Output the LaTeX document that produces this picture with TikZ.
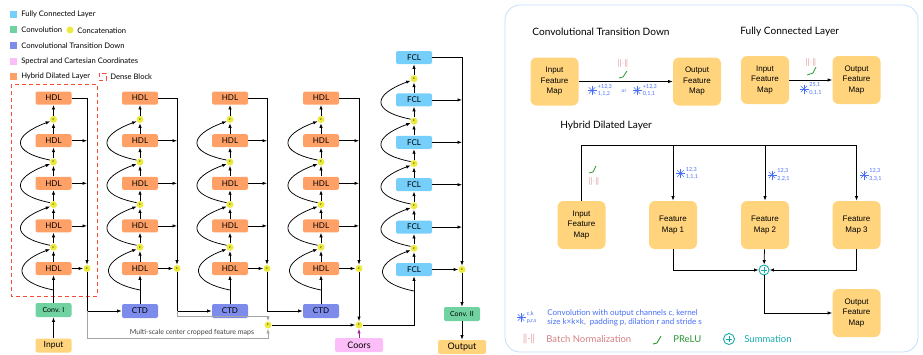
\documentclass[tikz,border=0pt]{standalone}
\usepackage{fontspec}
\setmainfont{Lato}
\newfontfamily\fmfont{Liberation Sans}
\usepackage{tikz}
\usetikzlibrary{arrows.meta,positioning,calc}

\definecolor{hdlcol}{RGB}{255,160,102}
\definecolor{fclcol}{RGB}{118,207,250}
\definecolor{convcol}{RGB}{112,210,160}
\definecolor{ctdcol}{RGB}{125,140,235}
\definecolor{coorcol}{RGB}{252,190,248}
\definecolor{catcol}{RGB}{236,234,60}
\definecolor{iocol}{RGB}{255,212,125}
\definecolor{densecol}{RGB}{245,75,55}
\definecolor{panelcol}{RGB}{195,222,250}
\definecolor{starcol}{RGB}{70,110,245}
\definecolor{bncol}{RGB}{205,95,100}
\definecolor{relucol}{RGB}{40,150,50}
\definecolor{sumcol}{RGB}{20,170,170}
\definecolor{skipcol}{RGB}{165,165,165}
\definecolor{coorarrow}{RGB}{150,40,150}

\tikzset{
  blk/.style={rounded corners=2pt, minimum width=36pt, minimum height=13pt, inner sep=0pt, font=\fontsize{8}{8}\selectfont},
  hdl/.style={blk, fill=hdlcol},
  fcl/.style={blk, fill=fclcol},
  ctd/.style={blk, fill=ctdcol, minimum height=14pt},
  cnv/.style={blk, fill=convcol, minimum height=14pt, font=\fontsize{7}{7}\selectfont},
  io/.style={blk, fill=iocol, minimum height=14pt, font=\fontsize{8.5}{8.5}\selectfont},
  cat/.style={circle, fill=catcol, minimum size=7pt, inner sep=0pt, font=\fontsize{3.5}{3.5}\selectfont},
  fmap/.style={rounded corners=6pt, fill=iocol, minimum width=48pt, minimum height=48pt, inner sep=1pt, align=center, font=\fmfont\fontsize{8}{10.5}\selectfont},
  sumnode/.style={circle, draw=sumcol, line width=0.9pt, minimum size=10pt, inner sep=0pt,
    path picture={\draw[sumcol, line width=0.8pt] ($(path picture bounding box.center)+(-2.6pt,0pt)$) -- ++(5.2pt,0pt)
      ($(path picture bounding box.center)+(0pt,-2.6pt)$) -- ++(0pt,5.2pt);}},
  swatch/.style={minimum size=7pt, inner sep=0pt},
  legtext/.style={anchor=west, inner sep=0pt, font=\fontsize{7.6}{7.6}\selectfont},
  ttl/.style={anchor=west, inner sep=0pt, font=\fontsize{10.1}{10.1}\selectfont},
  cvlab/.style={anchor=west, inner sep=0pt, align=left, text=starcol, font=\fontsize{5.5}{7.5}\selectfont},
  bnsym/.style={inner sep=0pt, text=bncol, font=\fontsize{8}{8}\selectfont},
  convstar/.pic={\foreach \a in {0,45,90,135} \draw[starcol, line width=0.55pt] (\a:4.5pt) -- (\a+180:4.5pt);},
}

\begin{document}
\begin{tikzpicture}[x=1pt, y=-1pt, line width=0.75pt, >={Latex[length=4.5pt,width=3.4pt]}]
  \useasboundingbox (0,0) rectangle (923,354);

  % legend of the network
  \node[swatch, fill=fclcol] (L1) at (13,14.5) {};
  \node[legtext, right=4pt of L1] (LT1) {Fully Connected Layer};
  \node[swatch, fill=convcol] (L2) at (13,29.7) {};
  \node[legtext, right=4pt of L2] (LT2) {Convolution};
  \node[cat] (L3) at (70,30) {};
  \node[legtext] (LT3) at (77,30.5) {Concatenation};
  \node[swatch, fill=ctdcol] (L4) at (13,45.3) {};
  \node[legtext, right=4pt of L4] (LT4) {Convolutional Transition Down};
  \node[swatch, fill=coorcol] (L5) at (13,61) {};
  \node[legtext, right=4pt of L5] (LT5) {Spectral and Cartesian Coordinates};
  \node[swatch, fill=hdlcol] (L6) at (13,76.3) {};
  \node[legtext, right=4pt of L6] (LT6) {Hybrid Dilated Layer};
  \draw[densecol, line width=0.9pt, dash pattern=on 4pt off 3pt] (99,73) rectangle (106,80);
  \node[legtext] (LT7) at (110,76.5) {Dense Block};

  % dense block frame
  \draw[densecol, line width=1pt, dash pattern=on 4pt off 3pt] (11,84) rectangle (97,296);

  % four dense blocks of HDL
  \foreach \col/\cx/\rx in {1/53.5/87,2/140/177,3/230/267,4/321/359} {
    \foreach \i in {1,...,5}
      \node[hdl] (H\col\i) at (\cx,{268.5-(\i-1)*42.6}) {HDL};
    \foreach \i in {1,...,4}
      \node[cat] (C\col\i) at (\cx,{268.5-(\i-0.5)*42.6}) {c};
    \node[cat] (K\col) at (\rx,268.5) {c};
    \foreach \i [count=\j from 2] in {1,...,4} {
      \draw[->] (H\col\i) -- (C\col\i);
      \draw[->] (C\col\i) -- (H\col\j);
    }
    \draw[->] (\cx,290) .. controls +(-40,-8) and +(-38,14) .. (C\col1.210);
    \foreach \i [count=\j from 2] in {1,2,3}
      \draw[->] (C\col\i.150) .. controls +(-40,-8) and +(-38,14) .. (C\col\j.210);
    \draw[->] (H\col5.east) -| (K\col);
    \foreach \i in {2,3,4}
      \draw[->] (H\col\i.east) -- (H\col\i.east -| K\col);
    \draw[->] (H\col1) -- (K\col);
  }

  \node[cnv] (V1) at (53.5,310) {Conv. I};
  \node[io] (I) at (53.5,345.5) {Input};
  \draw[->] (I) -- (V1);
  \draw[->] (V1) -- (H11);

  \node[ctd] (T1) at (140,311) {CTD};
  \node[ctd] (T2) at (230,311) {CTD};
  \node[ctd] (T3) at (321,311) {CTD};
  \draw[->] (T1) -- (H21);
  \draw[->] (T2) -- (H31);
  \draw[->] (T3) -- (H41);
  \draw[->] (K1) |- (T1);
  \draw[->] (K2) |- (T2);
  \draw[->] (K3) |- (T3);

  % multi-scale skips
  \node[cat] (M) at (268,325) {c};
  \draw[skipcol, ->] (K1 |- T1) -- (87,338) -| (M);
  \draw[skipcol, ->] (K2 |- T2) -- (177,316) -| (M);
  \node[inner sep=0pt, text=black!75, font=\fontsize{7}{7}\selectfont] (MS) at (192,332.5) {Multi-scale center cropped feature maps};

  % fully connected block
  \foreach \i in {1,...,6}
    \node[fcl] (F\i) at (414,{269.5-(\i-1)*42.4}) {FCL};
  \foreach \i in {1,...,5}
    \node[cat] (D\i) at (414,{269.5-(\i-0.5)*42.4}) {c};
  \node[cat] (K5) at (462,269.5) {c};
  \foreach \i [count=\j from 2] in {1,...,5} {
    \draw[->] (F\i) -- (D\i);
    \draw[->] (D\i) -- (F\j);
  }
  \draw[->] (414,291) .. controls +(-40,-8) and +(-38,14) .. (D1.210);
  \foreach \i [count=\j from 2] in {1,...,4}
    \draw[->] (D\i.150) .. controls +(-40,-8) and +(-38,14) .. (D\j.210);
  \draw[->] (F6.east) -| (K5);
  \foreach \i in {2,...,5}
    \draw[->] (F\i.east) -- (F\i.east -| K5);
  \draw[->] (F1) -- (K5);

  \node[cat] (N) at (359,325) {c};
  \node[blk, fill=coorcol, minimum width=48pt, minimum height=14pt, font=\fontsize{9}{9}\selectfont] (P) at (359,345) {Coors};
  \draw[->] (M) -- (N);
  \draw[->] (K4) -- (N);
  \draw[->, coorarrow] (P) -- (N);
  \draw[->] (N) -| (F1);

  \node[cnv] (V2) at (462,314) {Conv. II};
  \node[io, minimum width=48pt, font=\fontsize{9}{9}\selectfont] (O) at (462,347) {Output};
  \draw[->] (K5) -- (V2);
  \draw[->] (V2) -- (O);

  % right panel
  \draw[panelcol, line width=0.8pt, rounded corners=15pt] (505,5) rectangle (918,352);

  % convolutional transition down
  \node[ttl] (TT1) at (532,32) {Convolutional Transition Down};
  \node[fmap] (A1) at (554.5,81.5) {Input\\Feature\\Map};
  \node[fmap] (B1) at (697,81.5) {Output\\Feature\\Map};
  \draw[->] (A1) -- (B1);
  \node[bnsym] (BN1) at (623,63) {$\|{\cdot}\|$};
  \draw[relucol, line width=0.8pt] (619,78) -- (623,77) -- (627,71);
  \pic at (592,90.5) {convstar};
  \node[cvlab] (CL1) at (597.5,90.5) {+12,3\\1,1,2};
  \node[inner sep=0pt, text=starcol, font=\fontsize{5}{5}\selectfont] (OR) at (624,91.5) {or};
  \pic at (637,90.5) {convstar};
  \node[cvlab] (CL2) at (642.5,90.5) {+12,3\\0,1,1};

  % fully connected layer
  \node[ttl] (TT2) at (740,32) {Fully Connected Layer};
  \node[fmap] (A2) at (765,80) {Input\\Feature\\Map};
  \node[fmap] (B2) at (856.5,80) {Output\\Feature\\Map};
  \draw[->] (A2) -- (B2);
  \node[bnsym] (BN2) at (811,62) {$\|{\cdot}\|$};
  \draw[relucol, line width=0.8pt] (807,75) -- (813,73) -- (816,67);
  \pic at (804,89) {convstar};
  \node[cvlab] (CL3) at (809,89) {25,1\\0,1,1};

  % hybrid dilated layer
  \node[ttl] (TT3) at (560,126) {Hybrid Dilated Layer};
  \node[fmap] (A3) at (581.5,225) {Input\\Feature\\Map};
  \node[fmap] (G1) at (673,225) {Feature\\Map 1};
  \node[fmap] (G2) at (765,225) {Feature\\Map 2};
  \node[fmap] (G3) at (856.5,225) {Feature\\Map 3};
  \coordinate (Q) at (856.5,145);
  \draw (A3) |- (Q);
  \draw[->] (Q) -- (G3);
  \draw[->] (G1 |- Q) -- (G1);
  \draw[->] (G2 |- Q) -- (G2);
  \draw[relucol, line width=0.8pt] (589,173) -- (593,172) -- (596,166);
  \node[bnsym] (BN3) at (594,181) {$\|{\cdot}\|$};
  \pic at (680.5,173.5) {convstar};
  \node[cvlab] (CL4) at (685.5,173.5) {12,3\\1,1,1};
  \pic at (772,175) {convstar};
  \node[cvlab] (CL5) at (777,175) {12,3\\2,2,1};
  \pic at (864,175) {convstar};
  \node[cvlab] (CL6) at (869,175) {12,3\\3,3,1};

  \node[sumnode] (S) at (764,270) {};
  \draw[->] (G1) |- (S);
  \draw[->] (G2) -- (S);
  \draw[->] (G3) |- (S);
  \node[fmap] (O3) at (856.5,313) {Output\\Feature\\Map};
  \draw[->] (S) |- (O3);

  % symbols
  \pic at (521,317.5) {convstar};
  \node[cvlab] (CL7) at (526.5,317.5) {c,k\\p,r,s};
  \node[anchor=west, inner sep=0pt, align=left, text=starcol, font=\fontsize{8}{9}\selectfont] (CX) at (547,317.5)
    {Convolution with output channels c, kernel\\size k×k×k,\ \ padding p, dilation r and stride s};
  \node[bnsym, font=\fontsize{10}{10}\selectfont] (BN4) at (529,339) {$\|{\cdot}\|$};
  \node[anchor=west, inner sep=0pt, text=bncol!80, font=\fontsize{9.5}{9.5}\selectfont] (BX) at (546,339.5) {Batch Normalization};
  \draw[relucol, line width=0.9pt] (653,344) -- (657,343) -- (661,336);
  \node[anchor=west, inner sep=0pt, text=relucol, font=\fontsize{9.5}{9.5}\selectfont] (RX) at (673,339.5) {PReLU};
  \node[sumnode, minimum size=11pt] (S2) at (729,339) {};
  \node[anchor=west, inner sep=0pt, text=sumcol, font=\fontsize{9.5}{9.5}\selectfont] (SX) at (744,339.5) {Summation};
\end{tikzpicture}
\end{document}
